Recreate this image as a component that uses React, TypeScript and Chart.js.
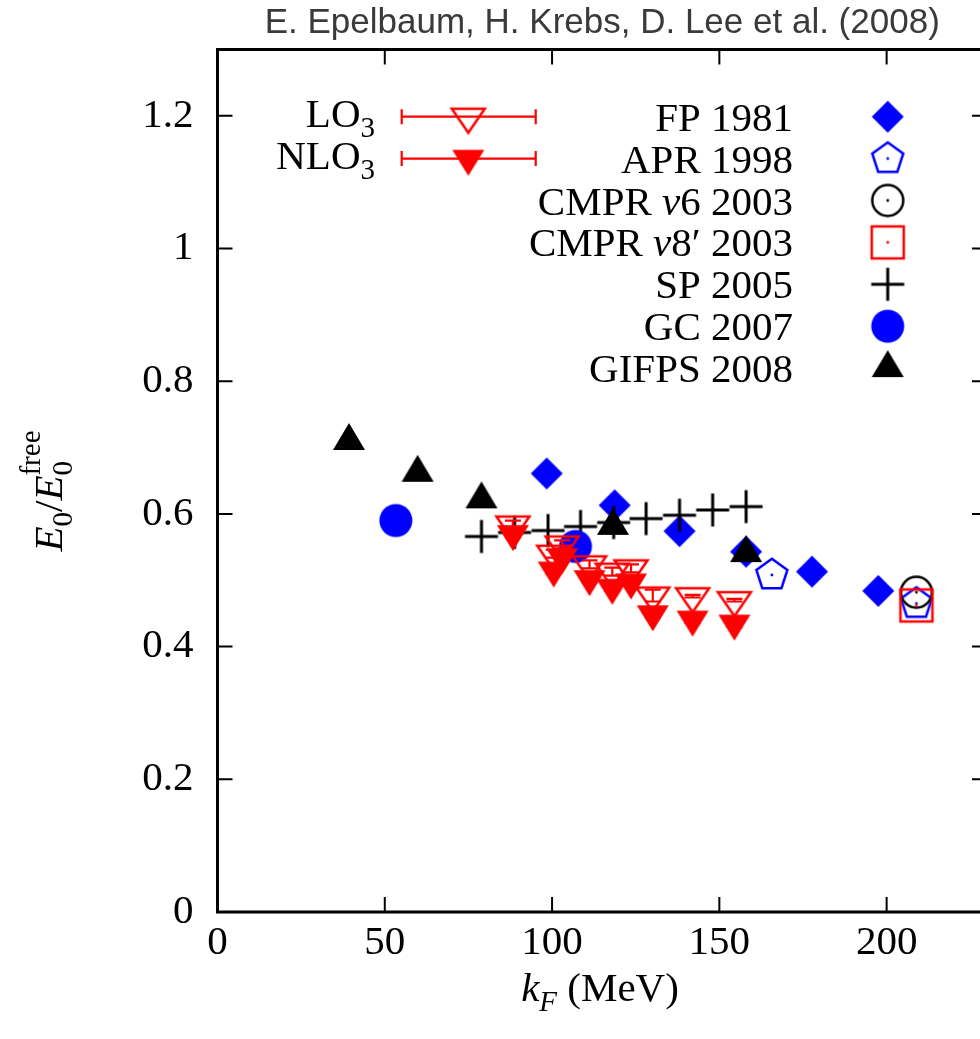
import React, { useEffect, useRef } from 'react';
import { Chart, registerables } from 'chart.js';

Chart.register(...registerables);

// ---------- data ----------
const titleText = 'E. Epelbaum, H. Krebs, D. Lee et al. (2008)';

// lattice results (kF in MeV)
const latX = [88.3, 100.5, 103.0, 111.2, 118.0, 123.6, 130.1, 142.0, 154.5];
const loY = [0.584, 0.540, 0.554, 0.524, 0.513, 0.518, 0.477, 0.476, 0.470];
const loErr = [0.006, 0.006, 0.006, 0.006, 0.006, 0.006, 0.009, 0.002, 0.002];
const nloY = [0.570, 0.515, 0.535, 0.502, 0.489, 0.497, 0.449, 0.441, 0.435];
const nloErr = [0.005, 0.005, 0.005, 0.005, 0.005, 0.005, 0.005, 0.005, 0.005];

const fpX = [98.4, 118.7, 138.1, 158.0, 177.7, 197.5];
const fpY = [0.661, 0.613, 0.574, 0.543, 0.513, 0.484];
const aprX = [165.7, 208.9];
const aprY = [0.508, 0.465];
const v6X = [208.9];
const v6Y = [0.482];
const v8X = [208.9];
const v8Y = [0.462];
const spX = [78.9, 88.8, 98.8, 108.5, 118.4, 128.1, 138.1, 148.0, 158.0];
const spY = [0.566, 0.572, 0.575, 0.581, 0.587, 0.593, 0.598, 0.606, 0.611];
const gcX = [53.3, 107.0];
const gcY = [0.590, 0.551];
const gifpsX = [39.3, 59.8, 78.9, 118.2, 158.0];
const gifpsY = [0.710, 0.662, 0.622, 0.582, 0.541];

const xMin = 0;
const xMax = 230;
const xStep = 50;
const yMin = 0;
const yMax = 1.3;
const yStep = 0.2;

// ---------- text helpers ----------
type Seg = { t: string; it?: boolean; small?: boolean; dy?: number; sup?: string; supDy?: number };
const SERIF = '"Liberation Serif", "Times New Roman", serif';
const BASE = 41;
const SMALL = 29;

function fontOf(s: Seg, italicSup = false) {
  return `${s.it && !italicSup ? 'italic ' : ''}${s.small ? SMALL : BASE}px ${SERIF}`;
}
function segWidth(ctx: CanvasRenderingContext2D, s: Seg) {
  ctx.font = fontOf(s);
  let w = ctx.measureText(s.t).width;
  if (s.sup) {
    ctx.font = `${SMALL}px ${SERIF}`;
    w = Math.max(w, ctx.measureText(s.sup).width);
  }
  return w;
}
function drawRich(ctx: CanvasRenderingContext2D, segs: Seg[], x: number, y: number, align: 'left' | 'right' | 'center') {
  const total = segs.reduce((a, s) => a + segWidth(ctx, s), 0);
  let cx = align === 'right' ? x - total : align === 'center' ? x - total / 2 : x;
  ctx.textAlign = 'left';
  ctx.textBaseline = 'alphabetic';
  for (const s of segs) {
    const w = segWidth(ctx, s);
    ctx.font = fontOf(s);
    ctx.fillText(s.t, cx, y + (s.dy || 0));
    if (s.sup) {
      ctx.font = `${SMALL}px ${SERIF}`;
      ctx.fillText(s.sup, cx, y + (s.supDy || 0));
    }
    cx += w;
  }
}

// ---------- marker images ----------
function makeCanvas(w: number, h: number, draw: (ctx: CanvasRenderingContext2D, cx: number, cy: number) => void) {
  const c = document.createElement('canvas');
  c.width = w;
  c.height = h;
  const ctx = c.getContext('2d')!;
  draw(ctx, w / 2, h / 2);
  return c;
}
function dot(ctx: CanvasRenderingContext2D, cx: number, cy: number, color: string) {
  ctx.fillStyle = color;
  ctx.beginPath();
  ctx.arc(cx, cy, 1.4, 0, Math.PI * 2);
  ctx.fill();
}
function makeMarkers() {
  const blue = '#0000ff';
  const red = '#ff0000';
  const black = '#000000';
  const diamond = makeCanvas(36, 36, (ctx, c) => {
    ctx.fillStyle = blue;
    ctx.beginPath();
    ctx.moveTo(c, c - 16);
    ctx.lineTo(c + 16, c);
    ctx.lineTo(c, c + 16);
    ctx.lineTo(c - 16, c);
    ctx.closePath();
    ctx.fill();
  });
  const pentagon = makeCanvas(40, 40, (ctx, c) => {
    ctx.strokeStyle = blue;
    ctx.lineWidth = 2.5;
    ctx.lineJoin = 'miter';
    ctx.beginPath();
    for (let k = 0; k < 5; k++) {
      const a = -Math.PI / 2 + (k * 2 * Math.PI) / 5;
      const px = c + 16.3 * Math.cos(a);
      const py = c + 16.3 * Math.sin(a);
      if (k === 0) ctx.moveTo(px, py);
      else ctx.lineTo(px, py);
    }
    ctx.closePath();
    ctx.stroke();
    dot(ctx, c, c, blue);
  });
  const ring = makeCanvas(38, 38, (ctx, c) => {
    ctx.strokeStyle = black;
    ctx.lineWidth = 2.5;
    ctx.beginPath();
    ctx.arc(c, c, 15.5, 0, Math.PI * 2);
    ctx.stroke();
    dot(ctx, c, c, black);
  });
  const square = makeCanvas(40, 40, (ctx, c) => {
    ctx.strokeStyle = red;
    ctx.lineWidth = 2.5;
    ctx.strokeRect(c - 16, c - 16, 32, 32);
    dot(ctx, c, c, red);
  });
  const plus = makeCanvas(38, 38, (ctx, c) => {
    ctx.strokeStyle = black;
    ctx.lineWidth = 3;
    ctx.beginPath();
    ctx.moveTo(c - 16.5, c);
    ctx.lineTo(c + 16.5, c);
    ctx.moveTo(c, c - 16.5);
    ctx.lineTo(c, c + 16.5);
    ctx.stroke();
  });
  const disc = makeCanvas(38, 38, (ctx, c) => {
    ctx.fillStyle = blue;
    ctx.beginPath();
    ctx.arc(c, c, 16.5, 0, Math.PI * 2);
    ctx.fill();
  });
  const triUp = makeCanvas(44, 44, (ctx, c) => {
    const w = 32, h = 27;
    ctx.fillStyle = black;
    ctx.beginPath();
    ctx.moveTo(c, c - (2 * h) / 3);
    ctx.lineTo(c + w / 2, c + h / 3);
    ctx.lineTo(c - w / 2, c + h / 3);
    ctx.closePath();
    ctx.fill();
  });
  const triDownOpen = makeCanvas(44, 44, (ctx, c) => {
    const w = 33, h = 24;
    ctx.strokeStyle = red;
    ctx.lineWidth = 2.5;
    ctx.beginPath();
    ctx.moveTo(c - w / 2, c - h / 3);
    ctx.lineTo(c + w / 2, c - h / 3);
    ctx.lineTo(c, c + (2 * h) / 3);
    ctx.closePath();
    ctx.stroke();
  });
  const triDownFill = makeCanvas(44, 44, (ctx, c) => {
    const w = 32, h = 26;
    ctx.fillStyle = red;
    ctx.beginPath();
    ctx.moveTo(c - w / 2, c - h / 3);
    ctx.lineTo(c + w / 2, c - h / 3);
    ctx.lineTo(c, c + (2 * h) / 3);
    ctx.closePath();
    ctx.fill();
  });
  return { diamond, pentagon, ring, square, plus, disc, triUp, triDownOpen, triDownFill };
}

// legend texts
const loLabel: Seg[] = [{ t: 'LO' }, { t: '3', small: true, dy: 10 }];
const nloLabel: Seg[] = [{ t: 'NLO' }, { t: '3', small: true, dy: 10 }];
const fpLabel: Seg[] = [{ t: 'FP 1981' }];
const aprLabel: Seg[] = [{ t: 'APR 1998' }];
const v6Label: Seg[] = [{ t: 'CMPR ' }, { t: 'v', it: true }, { t: '6 2003' }];
const v8Label: Seg[] = [{ t: 'CMPR ' }, { t: 'v', it: true }, { t: '8\u2032 2003' }];
const spLabel: Seg[] = [{ t: 'SP 2005' }];
const gcLabel: Seg[] = [{ t: 'GC 2007' }];
const gifpsLabel: Seg[] = [{ t: 'GIFPS 2008' }];

const xTitle: Seg[] = [{ t: 'k', it: true }, { t: 'F', it: true, small: true, dy: 10 }, { t: ' (MeV)' }];
const yTitle: Seg[] = [
  { t: 'E', it: true },
  { t: '0', small: true, dy: 10 },
  { t: '/' },
  { t: 'E', it: true },
  { t: '0', small: true, dy: 10, sup: 'free', supDy: -22 },
];

const plain = (s: Seg[]) => s.map((p) => p.t + (p.sup || '')).join('');

export default function App() {
  const ref = useRef<HTMLCanvasElement>(null);

  useEffect(() => {
    const canvas = ref.current!;
    const m = makeMarkers();

    const pts = (xs: number[], ys: number[]) => xs.map((x, i) => ({ x, y: ys[i] }));
    const mk = (label: string, xs: number[], ys: number[], img: HTMLCanvasElement, order: number, extra: any = {}) => ({
      label,
      data: pts(xs, ys),
      pointStyle: img,
      pointRadius: 12,
      pointHoverRadius: 12,
      showLine: false,
      order,
      ...extra,
    });

    const datasets: any[] = [
      mk(plain(fpLabel), fpX, fpY, m.diamond, 8),
      mk(plain(aprLabel), aprX, aprY, m.pentagon, 7),
      mk(plain(v6Label), v6X, v6Y, m.ring, 6),
      mk(plain(v8Label), v8X, v8Y, m.square, 5),
      mk(plain(spLabel), spX, spY, m.plus, 4),
      mk(plain(gcLabel), gcX, gcY, m.disc, 3),
      mk(plain(gifpsLabel), gifpsX, gifpsY, m.triUp, 2),
      mk(plain(loLabel), latX, loY, m.triDownOpen, 1, { errs: loErr, errColor: '#ff0000' }),
      mk(plain(nloLabel), latX, nloY, m.triDownFill, 0, { errs: nloErr, errColor: '#ff0000' }),
    ];

    const framePlugin = {
      id: 'frame',
      beforeDatasetsDraw(chart: any) {
        const { ctx, chartArea } = chart;
        const { left, right, top, bottom } = chartArea;
        const xs = chart.scales.x;
        const ys = chart.scales.y;
        ctx.save();
        ctx.strokeStyle = '#000';
        ctx.lineWidth = 2;
        const tl = 15;
        ctx.beginPath();
        xs.ticks.forEach((t: any) => {
          const px = xs.getPixelForValue(t.value);
          ctx.moveTo(px, bottom);
          ctx.lineTo(px, bottom - tl);
          ctx.moveTo(px, top);
          ctx.lineTo(px, top + tl);
        });
        ys.ticks.forEach((t: any) => {
          const py = ys.getPixelForValue(t.value);
          ctx.moveTo(left, py);
          ctx.lineTo(left + tl, py);
          ctx.moveTo(right, py);
          ctx.lineTo(right - tl, py);
        });
        ctx.stroke();
        ctx.lineWidth = 3;
        ctx.strokeRect(left, top, right - left, bottom - top);
        ctx.restore();
      },
    };

    const errPlugin = {
      id: 'errbars',
      beforeDatasetDraw(chart: any, args: any) {
        const ds = chart.data.datasets[args.index];
        if (!ds.errs) return;
        const ys = chart.scales.y;
        const ctx = chart.ctx;
        ctx.save();
        ctx.strokeStyle = ds.errColor;
        ctx.lineWidth = 2.2;
        ctx.beginPath();
        args.meta.data.forEach((el: any, i: number) => {
          const v = ds.data[i].y;
          const e = ds.errs[i];
          const y1 = ys.getPixelForValue(v - e);
          const y2 = ys.getPixelForValue(v + e);
          const x = el.x;
          ctx.moveTo(x, y1);
          ctx.lineTo(x, y2);
          ctx.moveTo(x - 8, y1);
          ctx.lineTo(x + 8, y1);
          ctx.moveTo(x - 8, y2);
          ctx.lineTo(x + 8, y2);
        });
        ctx.stroke();
        ctx.restore();
      },
    };

    const textPlugin = {
      id: 'texts',
      afterDraw(chart: any) {
        const { ctx, chartArea } = chart;
        ctx.save();
        // title
        ctx.fillStyle = '#3a3a3a';
        ctx.font = '35px "Liberation Sans", Arial, sans-serif';
        ctx.textAlign = 'center';
        ctx.textBaseline = 'alphabetic';
        ctx.fillText(titleText, (chartArea.left + chartArea.right) / 2, 33);

        ctx.fillStyle = '#000';
        // x title
        drawRich(ctx, xTitle, 600, 1001, 'center');
        // y title
        ctx.save();
        ctx.translate(62, 491);
        ctx.rotate(-Math.PI / 2);
        drawRich(ctx, yTitle, 0, 0, 'center');
        ctx.restore();

        // left key (lattice)
        const leftRows = [116.7, 158.6];
        const leftLabels = [loLabel, nloLabel];
        const leftImgs = [m.triDownOpen, m.triDownFill];
        leftRows.forEach((ry, i) => {
          ctx.fillStyle = '#000';
          drawRich(ctx, leftLabels[i], 375, ry + 10, 'right');
          ctx.strokeStyle = '#ff0000';
          ctx.lineWidth = 2.2;
          ctx.beginPath();
          ctx.moveTo(401.7, ry);
          ctx.lineTo(535.7, ry);
          ctx.moveTo(401.7, ry - 7.5);
          ctx.lineTo(401.7, ry + 7.5);
          ctx.moveTo(535.7, ry - 7.5);
          ctx.lineTo(535.7, ry + 7.5);
          ctx.stroke();
          const img = leftImgs[i];
          ctx.drawImage(img, 468.3 - img.width / 2, ry - img.height / 2);
        });

        // right key
        const rightLabels = [fpLabel, aprLabel, v6Label, v8Label, spLabel, gcLabel, gifpsLabel];
        const rightImgs = [m.diamond, m.pentagon, m.ring, m.square, m.plus, m.disc, m.triUp];
        rightLabels.forEach((lab, i) => {
          const ry = 116.7 + 41.9 * i;
          ctx.fillStyle = '#000';
          drawRich(ctx, lab, 793, ry + 14, 'right');
          const img = rightImgs[i];
          ctx.drawImage(img, 887.7 - img.width / 2, ry - img.height / 2);
        });
        ctx.restore();
      },
    };

    const chart = new Chart(canvas, {
      type: 'scatter',
      data: { datasets },
      options: {
        responsive: false,
        animation: false,
        devicePixelRatio: 1,
        layout: { padding: { top: 49.5, right: 12, bottom: 0, left: 0 } },
        plugins: { legend: { display: false }, tooltip: { enabled: false }, title: { display: false } },
        events: [],
        scales: {
          x: {
            type: 'linear',
            position: 'bottom',
            min: xMin,
            max: xMax,
            grid: { display: false, drawTicks: false },
            border: { display: false },
            ticks: {
              stepSize: xStep,
              includeBounds: false,
              autoSkip: false,
              maxRotation: 0,
              padding: 7,
              color: '#000',
              font: { family: 'Liberation Serif', size: BASE },
              callback: (v: any) => String(Math.round(Number(v))),
            },
            afterFit: (s: any) => {
              s.height = 127;
            },
          },
          y: {
            type: 'linear',
            position: 'left',
            min: yMin,
            max: yMax,
            grid: { display: false, drawTicks: false },
            border: { display: false },
            ticks: {
              stepSize: yStep,
              includeBounds: false,
              autoSkip: false,
              padding: 24,
              color: '#000',
              font: { family: 'Liberation Serif', size: BASE },
              callback: (v: any) => String(+Number(v).toFixed(2)),
            },
            afterFit: (s: any) => {
              s.width = 217.5;
            },
          },
        },
      } as any,
      plugins: [framePlugin, errPlugin, textPlugin],
    });
    return () => chart.destroy();
  }, []);

  return (
    <div style={{ position: 'absolute', left: 0, top: 0, width: 980, height: 1039, overflow: 'hidden', background: '#fff' }}>
      <canvas ref={ref} width={1000} height={1039} style={{ display: 'block' }} />
    </div>
  );
}
